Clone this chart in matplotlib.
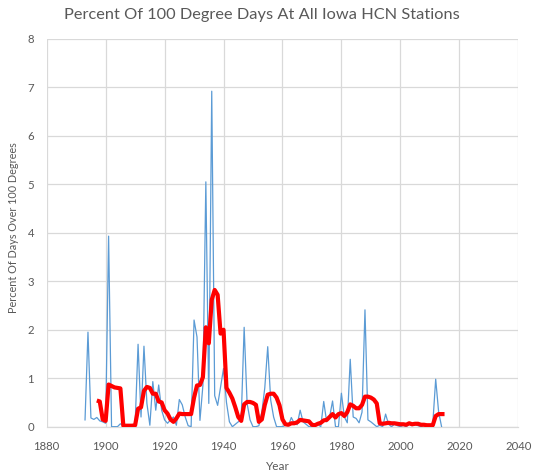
import matplotlib
matplotlib.use('Agg')
import numpy as np
import matplotlib.pyplot as plt

# yearly percent of days over 100F (blue) and the smoothed line (red)
years = list(range(1893, 2015))
pct_days = [0.14, 1.95, 0.18, 0.15, 0.19, 0.12, 0.10, 0.07, 3.93, 0.0,
            0.0, 0.0, 0.06, 0.02, 0.0, 0.0, 0.0, 0.05, 1.70, 0.20,
            1.66, 0.48, 0.03, 0.93, 0.34, 0.86, 0.34, 0.14, 0.07, 0.14,
            0.20, 0.03, 0.56, 0.45, 0.20, 0.02, 0.0, 2.20, 1.85, 0.13,
            0.85, 5.05, 0.48, 6.92, 0.64, 0.44, 0.82, 1.20, 0.50, 0.10,
            0.0, 0.05, 0.10, 0.15, 2.05, 0.48, 0.14, 0.0, 0.0, 0.02,
            0.30, 0.80, 1.65, 0.55, 0.20, 0.0, 0.0, 0.0, 0.03, 0.02,
            0.19, 0.07, 0.04, 0.34, 0.10, 0.05, 0.0, 0.0, 0.02, 0.05,
            0.0, 0.52, 0.10, 0.20, 0.53, 0.0, 0.0, 0.69, 0.20, 0.08,
            1.39, 0.20, 0.17, 0.08, 0.30, 2.41, 0.14, 0.10, 0.05, 0.0,
            0.03, 0.0, 0.26, 0.05, 0.0, 0.05, 0.02, 0.0, 0.03, 0.0,
            0.05, 0.02, 0.05, 0.02, 0.0, 0.03, 0.0, 0.02, 0.05, 0.98,
            0.30, 0.0]

avg_years = list(range(1897, 2016))
avg_pct = [0.54, 0.52, 0.15, 0.12, 0.87, 0.84, 0.81, 0.80, 0.79, 0.02,
           0.02, 0.02, 0.02, 0.03, 0.37, 0.40, 0.74, 0.82, 0.80, 0.68,
           0.68, 0.52, 0.50, 0.34, 0.27, 0.15, 0.10, 0.17, 0.27, 0.26,
           0.26, 0.26, 0.26, 0.60, 0.85, 0.86, 1.02, 2.05, 1.72, 2.62,
           2.82, 2.72, 1.92, 2.00, 0.80, 0.70, 0.58, 0.40, 0.20, 0.12,
           0.46, 0.51, 0.51, 0.49, 0.45, 0.10, 0.15, 0.45, 0.66, 0.68,
           0.68, 0.60, 0.44, 0.15, 0.05, 0.04, 0.07, 0.07, 0.09, 0.14,
           0.13, 0.12, 0.11, 0.04, 0.03, 0.06, 0.08, 0.13, 0.14, 0.20,
           0.26, 0.19, 0.26, 0.28, 0.22, 0.30, 0.46, 0.43, 0.38, 0.38,
           0.45, 0.62, 0.62, 0.60, 0.56, 0.48, 0.07, 0.06, 0.07, 0.08,
           0.07, 0.07, 0.06, 0.05, 0.05, 0.04, 0.07, 0.05, 0.06, 0.06,
           0.04, 0.04, 0.03, 0.03, 0.03, 0.22, 0.26, 0.26, 0.26]

x_ticks = list(range(1880, 2041, 20))
y_ticks = list(range(0, 9))

txt = '#595959'
grid = '#D9D9D9'
plt.rcParams['font.family'] = ['Lato', 'DejaVu Sans']

fig = plt.figure(figsize=(5.37, 4.76), dpi=100)
ax = fig.add_axes([0.087, 0.1036, 0.878, 0.8148])

ax.plot(years, pct_days, color='#5B9BD5', lw=0.9, zorder=3)
ax.plot(avg_years, avg_pct, color='#FF0000', lw=3.0, zorder=4,
        solid_joinstyle='round', solid_capstyle='butt')

ax.set_xlim(1880, 2040)
ax.set_ylim(0, 8)
ax.set_xticks(x_ticks)
ax.set_yticks(y_ticks)
ax.grid(True, color=grid, lw=0.9)
ax.set_axisbelow(True)
for s in ['top', 'right', 'left']:
    ax.spines[s].set_visible(False)
ax.spines['bottom'].set_color(grid)
ax.spines['bottom'].set_linewidth(0.9)
ax.tick_params(length=0, colors=txt, labelsize=8.2)
ax.tick_params(axis='x', pad=10)
ax.tick_params(axis='y', pad=9)

ax.set_xlabel('Year', color=txt, fontsize=8.5)
ax.set_ylabel('Percent Of Days Over 100 Degrees', color=txt, fontsize=7.8)
ax.xaxis.set_label_coords(0.49, -0.088)
ax.yaxis.set_label_coords(-0.059, 0.512)
fig.suptitle('Percent Of 100 Degree Days At All Iowa HCN Stations',
             color=txt, fontsize=11.8, y=0.983, x=0.488)

fig.savefig('out.png', dpi=100)
